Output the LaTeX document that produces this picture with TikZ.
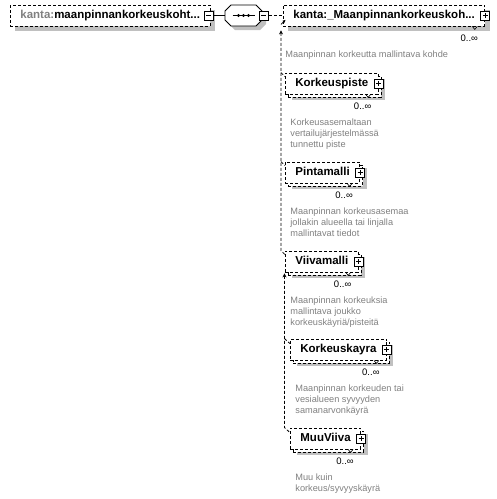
\documentclass[tikz,border=0pt]{standalone}
\usepackage{fontspec}
\setmainfont{Liberation Sans}
\usetikzlibrary{shadows,arrows.meta}
\definecolor{varjo}{RGB}{192,192,192}
\definecolor{selite}{RGB}{128,128,128}

\begin{document}
\begin{tikzpicture}[x=1pt, y=-1pt, line width=0.8pt,
  elem/.style={draw, dash pattern=on 3pt off 2pt, fill=white, anchor=west,
               font=\fontsize{11.5}{13}\selectfont\bfseries, minimum height=21pt,
               inner xsep=10pt, inner ysep=0pt, text height=8.5pt, text depth=2.5pt},
  single/.style={drop shadow={shadow xshift=5pt, shadow yshift=-5pt, fill=varjo, opacity=1}},
  multi/.style={drop shadow={shadow xshift=7pt, shadow yshift=-6pt, fill=varjo, opacity=1},
                copy shadow={shadow xshift=3pt, shadow yshift=-3pt, draw,
                             dash pattern=on 3pt off 2pt, fill=white}},
  pmbox/.style={draw, solid, fill=white, minimum size=9pt, inner sep=0pt},
  minus/.style={pmbox, path picture={
      \draw ([xshift=2pt]path picture bounding box.west) -- ([xshift=-2pt]path picture bounding box.east);}},
  plus/.style={pmbox, path picture={
      \draw ([xshift=2pt]path picture bounding box.west) -- ([xshift=-2pt]path picture bounding box.east);
      \draw ([yshift=-2pt]path picture bounding box.north) -- ([yshift=2pt]path picture bounding box.south);}},
  seq/.style={minimum width=37pt, minimum height=21pt, inner sep=0pt},
  conn/.style={dash pattern=on 3pt off 2pt},
  nuoli/.style={{Stealth[length=4pt, width=4pt]}-},
  occ/.style={font=\fontsize{9.5}{11}\selectfont, inner sep=0pt},
  desc/.style={anchor=north west, align=left, inner sep=0pt, text=selite,
               font=\fontsize{9.2}{11}\selectfont}
]
  \useasboundingbox (0,0) rectangle (497,499);

  % juurielementti ja sekvenssi
  \node[elem, single] (root) at (10,15.5) {\textcolor{selite}{kanta:}maanpinnankorkeuskoht...};
  \node[minus] (rootm) at ([xshift=-1.5pt]root.east) {};
  \node[seq] (seq) at (243.5,15.5) {};
  \draw[fill=white, shift={(seq.center)},
        drop shadow={shadow xshift=4pt, shadow yshift=-4pt, fill=varjo, opacity=1}]
    (-18.5,-4.5) -- (-12.5,-10.5) -- (12.5,-10.5) -- (18.5,-4.5)
    -- (18.5,4.5) -- (12.5,10.5) -- (-12.5,10.5) -- (-18.5,4.5) -- cycle;
  \draw ([xshift=-11pt]seq.center) -- ([xshift=11pt]seq.center);
  \foreach \dx in {-5,0,5} \fill ([xshift=\dx pt]seq.center) circle (1.7pt);
  \node[minus] (seqm) at ([xshift=1.5pt]seq.east) {};
  \draw (rootm) -- (seq);

  % abstrakti kohde
  \node[elem, single] (head) at (283,15.5) {kanta:\_Maanpinnankorkeuskoh...};
  \node[plus] (headp) at (head.east) {};
  \node[occ] (heado) at ([xshift=-16pt,yshift=-12pt]head.south east) {0..∞};
  \node[desc] (headd) at ([xshift=2pt,yshift=-24.5pt]head.south west) {Maanpinnan korkeutta mallintava kohde};
  \draw[conn] (seqm) -- (head);
  \draw[-{Stealth[length=3pt, width=3pt]}] ([xshift=-2pt,yshift=2pt]head.south west) -- ([xshift=2.5pt,yshift=6.5pt]head.south west);

  % korvaavat elementit
  \node[elem, multi] (kp) at (285,83.5) {Korkeuspiste};
  \node[plus] (kpp) at (kp.east) {};
  \node[occ] (kpo) at ([xshift=-16pt,yshift=-12pt]kp.south east) {0..∞};
  \node[desc] (kpd) at ([xshift=5pt,yshift=-24.5pt]kp.south west) {Korkeusasemaltaan\\vertailujärjestelmässä\\tunnettu piste};

  \node[elem, multi] (pm) at (285,172.5) {Pintamalli};
  \node[plus] (pmp) at (pm.east) {};
  \node[occ] (pmo) at ([xshift=-16pt,yshift=-12pt]pm.south east) {0..∞};
  \node[desc] (pmd) at ([xshift=5pt,yshift=-24.5pt]pm.south west) {Maanpinnan korkeusasemaa\\jollakin alueella tai linjalla\\mallintavat tiedot};

  \node[elem, multi] (vm) at (285,261.5) {Viivamalli};
  \node[plus] (vmp) at (vm.east) {};
  \node[occ] (vmo) at ([xshift=-16pt,yshift=-12pt]vm.south east) {0..∞};
  \node[desc] (vmd) at ([xshift=5pt,yshift=-24.5pt]vm.south west) {Maanpinnan korkeuksia\\mallintava joukko\\korkeuskäyriä/pisteitä};

  \node[elem, multi] (kk) at (290,349.5) {Korkeuskayra};
  \node[plus] (kkp) at (kk.east) {};
  \node[occ] (kko) at ([xshift=-16pt,yshift=-12pt]kk.south east) {0..∞};
  \node[desc] (kkd) at ([xshift=5pt,yshift=-24.5pt]kk.south west) {Maanpinnan korkeuden tai\\vesialueen syvyyden\\samanarvonkäyrä};

  \node[elem, multi] (mv) at (290,438.5) {MuuViiva};
  \node[plus] (mvp) at (mv.east) {};
  \node[occ] (mvo) at ([xshift=-16pt,yshift=-12pt]mv.south east) {0..∞};
  \node[desc] (mvd) at ([xshift=5pt,yshift=-24.5pt]mv.south west) {Muu kuin\\korkeus/syvyyskäyrä};

  % lovet
  \foreach \n in {head,kp,pm,vm,kk,mv}
    \draw[line width=0.6pt] ([xshift=-13pt]\n.south east) -- ++(2.5,3) -- ++(2.5,-3);

  % korvausryhmien viivat
  \coordinate (tipA) at ([xshift=-2pt,yshift=-4pt]head.south west);
  \coordinate (tipB) at ([xshift=-0.5pt,yshift=-1pt]vm.south west);
  \draw[conn, nuoli] (tipA) -- (tipA |- vm.north) -- ([yshift=-4pt]vm.north west);
  \draw[conn] (tipA |- kp.north) -- ([yshift=-4pt]kp.north west);
  \draw[conn] (tipA |- pm.north) -- ([yshift=-4pt]pm.north west);
  \draw[conn, nuoli] (tipB) -- (tipB |- mv.north) -- ([yshift=-5pt]mv.north west);
  \draw[conn] (tipB |- kk.north) -- ([yshift=-5pt]kk.north west);
\end{tikzpicture}
\end{document}
